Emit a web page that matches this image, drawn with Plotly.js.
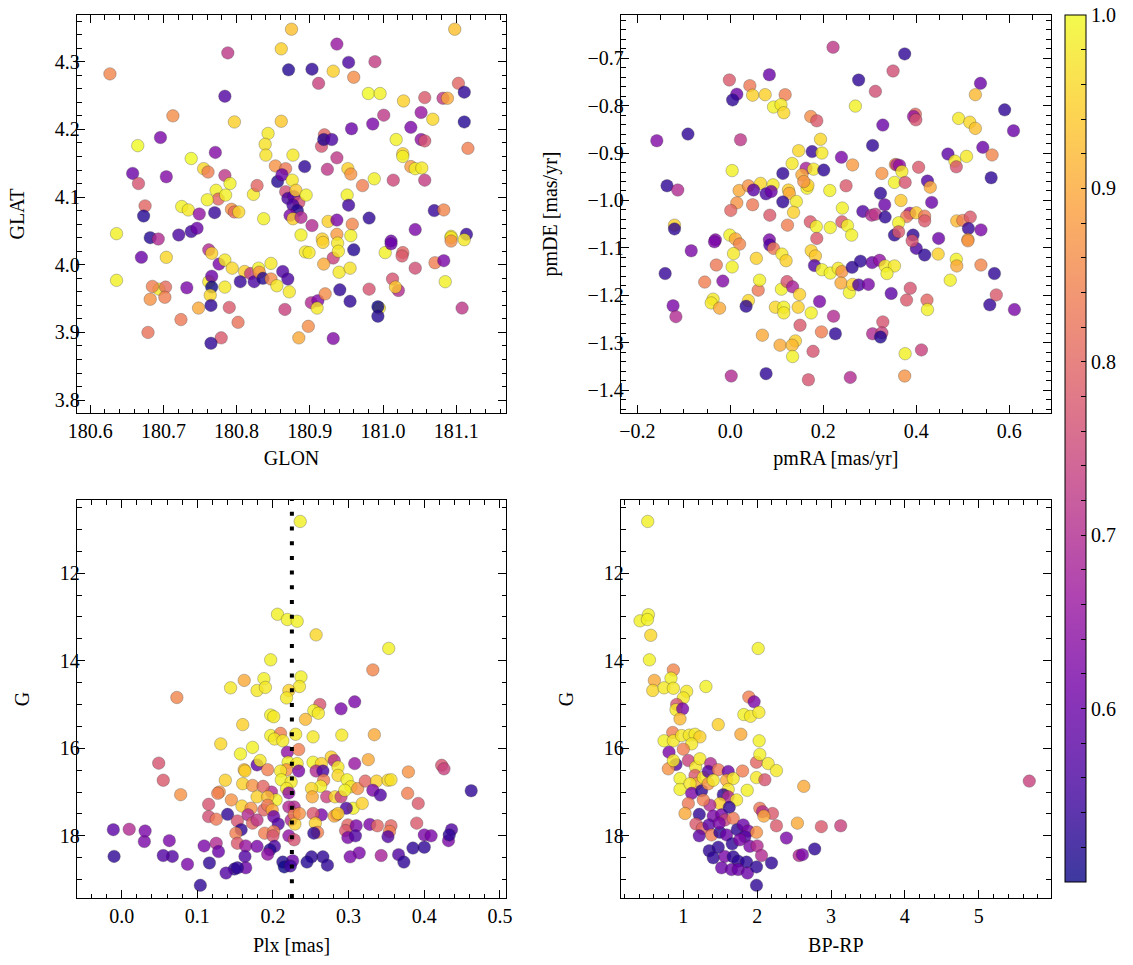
<!DOCTYPE html>
<html>
<head>
<meta charset="utf-8">
<script src="https://cdn.plot.ly/plotly-3.0.1.min.js"></script>
<style>html,body{margin:0;padding:0;background:#fff;}#chart{width:1133px;height:965px;}</style>
</head>
<body>
<div id="chart"></div>
<script>
// ---------------- DATA ----------------
// Panel 1: sky positions
const glon = [180.627,180.875,181.098,180.788,180.937,180.861,180.871,180.903,180.953,180.989,
180.932,180.960,180.912,180.784,180.980,180.996,181.028,181.057,181.082,181.088,
181.103,181.111,180.713,180.797,180.861,180.957,180.986,181.001,181.038,181.052,
181.068,181.111,180.665,180.696,180.843,180.839,180.920,180.916,180.919,180.930,
181.018,181.052,181.057,181.116,180.771,180.738,180.840,180.877,180.937,181.027,
181.027,180.755,180.761,180.853,180.867,180.893,180.924,180.952,180.956,181.038,
181.044,181.053,181.057,181.014,180.988,180.658,180.666,180.704,180.784,180.791,
180.772,180.775,180.785,180.760,180.823,180.828,180.856,180.862,180.867,180.870,
180.878,180.876,180.881,180.885,180.877,180.883,180.873,180.877,180.888,180.895,
180.951,180.953,180.972,180.725,180.734,180.749,180.770,180.793,180.797,180.803,
180.675,180.673,180.837,180.903,180.925,180.937,180.958,180.981,181.070,181.083,
181.044,180.636,180.682,180.693,180.721,180.738,180.746,180.888,180.917,180.937,
180.956,181.011,181.093,181.114,
180.670,180.704,180.762,180.766,180.776,180.784,180.794,180.811,180.819,180.824,
180.830,180.831,180.836,180.847,180.847,180.855,180.863,180.870,180.872,180.866,
180.805,180.762,180.766,180.766,180.764,180.765,180.784,180.732,180.694,180.685,
180.703,180.682,180.702,180.636,180.748,180.790,180.724,180.802,180.679,180.779,
180.765,180.885,180.898,180.932,180.902,180.911,180.910,180.921,180.941,180.955,
180.981,180.995,180.993,180.993,181.013,181.021,181.017,181.044,181.071,181.083,
181.085,181.108,181.027,181.026,181.003,181.011,181.093,181.093,181.111,180.960,
180.932,180.938,180.939,180.918,180.919,180.940,180.955,180.894,180.899];
const glat = [4.282,4.348,4.348,4.313,4.326,4.319,4.288,4.289,4.299,4.300,
4.286,4.277,4.268,4.249,4.253,4.253,4.242,4.247,4.246,4.246,
4.268,4.255,4.220,4.211,4.212,4.201,4.208,4.221,4.203,4.225,
4.215,4.211,4.176,4.188,4.194,4.178,4.192,4.175,4.185,4.185,
4.185,4.185,4.183,4.172,4.166,4.157,4.162,4.162,4.158,4.164,
4.160,4.142,4.137,4.146,4.142,4.145,4.141,4.142,4.134,4.145,
4.142,4.143,4.125,4.125,4.127,4.135,4.120,4.130,4.132,4.120,
4.110,4.097,4.103,4.096,4.104,4.117,4.123,4.133,4.108,4.098,
4.101,4.125,4.110,4.092,4.088,4.080,4.073,4.068,4.070,4.103,
4.103,4.088,4.117,4.086,4.081,4.075,4.077,4.082,4.078,4.078,
4.087,4.072,4.068,4.058,4.064,4.066,4.060,4.069,4.080,4.081,
4.052,4.046,4.040,4.038,4.044,4.049,4.054,4.044,4.038,4.045,
4.043,4.035,4.042,4.045,
4.011,4.011,4.022,4.017,4.001,4.007,3.995,3.990,3.987,3.975,
3.995,3.989,3.980,4.002,3.979,3.969,3.990,3.979,3.960,3.934,
3.975,3.975,3.983,3.967,3.955,3.940,3.967,3.966,3.964,3.968,
3.967,3.949,3.952,3.977,3.936,3.937,3.919,3.915,3.900,3.892,
3.884,3.892,3.909,3.891,3.944,3.947,3.936,3.957,3.963,3.946,
3.964,3.936,3.938,3.924,3.979,3.962,3.967,3.995,4.003,4.006,
3.975,3.936,4.018,4.013,4.018,4.031,4.040,4.035,4.037,4.022,
4.010,4.032,4.020,4.033,4.001,3.989,3.995,4.019,4.018];
const probPos = [0.85,0.93,0.93,0.72,0.66,0.95,0.52,0.53,0.56,0.73,
0.95,0.86,0.74,0.57,1.0,0.99,0.95,0.78,0.72,0.9,
0.8,0.53,0.86,0.95,0.94,0.6,0.62,0.72,0.62,0.66,
0.96,0.52,1.0,0.62,0.98,0.97,0.8,0.77,0.52,0.56,
0.99,0.65,0.77,0.84,0.63,1.0,0.97,0.98,0.72,0.95,
0.99,0.96,0.84,0.87,0.83,0.53,0.72,0.95,0.87,0.88,
0.99,0.98,0.73,0.75,0.99,0.6,0.77,0.63,0.72,0.99,
0.99,0.8,0.99,0.99,0.98,0.8,0.52,0.6,0.76,0.56,
0.58,0.98,0.94,0.76,0.56,0.52,0.62,0.95,0.7,0.99,
0.99,0.55,0.84,0.99,0.98,0.65,0.54,0.87,0.81,0.96,
0.8,0.52,0.99,0.7,0.95,0.62,0.85,0.53,0.54,0.85,
0.62,0.99,0.52,0.7,0.56,0.55,0.6,0.99,0.95,0.88,
0.99,0.6,0.98,0.54,
0.6,0.96,0.7,0.95,0.62,0.98,0.96,0.95,0.73,0.56,
0.99,0.87,0.52,0.98,0.86,0.98,0.57,0.56,0.98,0.74,
0.54,0.98,0.6,0.5,0.96,0.53,0.98,0.62,0.98,0.84,
0.81,0.87,0.84,0.99,0.9,0.78,0.83,0.82,0.82,0.78,
0.53,0.9,0.86,0.63,0.7,0.63,0.98,0.86,0.53,0.53,
0.77,0.98,0.5,0.52,0.77,0.7,0.94,0.76,0.84,0.62,
0.99,0.72,0.8,0.78,0.99,0.6,0.98,0.86,0.98,0.52,
0.74,0.98,0.98,0.95,0.9,0.98,0.97,0.98,0.98];

// Panel 2: proper motions
const pmra = [0.221,0.375,0.350,0.312,0.276,0.269,0.538,0.527,0.590,0.609,
0.491,0.515,0.527,0.398,0.394,0.399,0.328,-0.002,0.042,0.084,
0.014,0.005,0.048,0.075,0.118,0.093,0.109,0.115,0.173,0.186,
-0.158,-0.091,0.022,0.194,0.147,0.176,0.197,0.133,0.163,0.179,
0.201,0.004,0.113,0.154,0.239,0.263,0.306,0.355,0.358,0.364,
0.369,0.326,0.405,0.468,0.483,0.486,0.508,0.543,0.563,0.561,
-0.136,-0.113,0.019,0.039,0.065,0.092,0.050,0.077,0.088,0.125,
0.127,0.142,0.113,0.014,0.048,0.001,0.085,0.136,0.123,0.165,
0.167,0.158,0.214,0.249,0.241,0.172,0.185,0.215,0.240,0.252,
0.261,0.285,0.304,0.312,0.333,0.323,0.332,0.353,0.376,0.367,
0.386,0.379,0.400,0.418,0.418,0.362,0.424,0.430,0.433,0.353,
0.362,0.393,0.487,0.500,0.516,0.512,0.539,0.448,0.511,-0.120,
-0.120,-0.032,-0.001,0.011,0.186,0.084,
-0.140,-0.084,-0.034,-0.030,-0.055,-0.016,-0.123,-0.117,-0.037,-0.041,
-0.023,0.020,0.007,0.004,0.039,0.034,0.056,0.060,0.063,0.069,
0.077,0.002,0.085,0.093,0.111,0.120,0.110,0.122,0.134,0.149,
0.097,0.115,0.115,0.146,0.150,0.107,0.140,0.133,0.134,0.174,
0.183,0.181,0.174,0.196,0.178,0.168,0.192,0.197,0.215,0.232,
0.240,0.238,0.256,0.263,0.262,0.280,0.276,0.222,0.226,0.258,
0.297,0.305,0.321,0.333,0.353,0.337,0.306,0.328,0.326,0.323,
0.346,0.400,0.391,0.418,0.447,0.387,0.379,0.423,0.424,0.376,
0.375,0.411,0.473,0.486,0.487,0.511,0.539,0.558,0.568,0.572,
0.611];
const pmde = [-0.677,-0.691,-0.727,-0.770,-0.746,-0.801,-0.753,-0.777,-0.809,-0.853,
-0.827,-0.835,-0.848,-0.818,-0.823,-0.830,-0.841,-0.746,-0.758,-0.735,
-0.776,-0.788,-0.778,-0.777,-0.777,-0.803,-0.798,-0.815,-0.823,-0.832,
-0.874,-0.860,-0.872,-0.871,-0.895,-0.897,-0.900,-0.922,-0.932,-0.934,
-0.936,-0.937,-0.943,-0.946,-0.909,-0.925,-0.884,-0.924,-0.925,-0.926,
-0.939,-0.943,-0.930,-0.902,-0.917,-0.929,-0.907,-0.888,-0.904,-0.952,
-0.969,-0.978,-0.979,-0.969,-0.964,-0.967,-0.978,-0.986,-0.981,-0.978,
-0.985,-1.002,-1.003,-1.005,-1.009,-1.021,-1.031,-1.025,-1.052,-0.974,
-0.968,-0.960,-0.979,-0.969,-1.016,-1.045,-1.055,-1.057,-1.045,-1.053,
-1.073,-1.023,-1.031,-1.029,-1.035,-0.985,-1.009,-0.962,-0.962,-1.000,
-1.027,-1.034,-1.026,-1.033,-1.043,-1.047,-0.959,-0.972,-1.004,-1.073,
-1.066,-1.073,-1.043,-1.042,-1.035,-1.059,-1.062,-1.080,-1.082,-1.052,
-1.060,-1.083,-1.073,-1.081,-1.080,-1.083,
-1.154,-1.106,-1.087,-1.136,-1.172,-1.170,-1.222,-1.245,-1.208,-1.216,
-1.227,-1.092,-1.112,-1.140,-1.211,-1.223,-1.122,-1.189,-1.168,-1.284,
-1.365,-1.370,-1.094,-1.101,-1.113,-1.127,-1.187,-1.171,-1.182,-1.198,
-1.225,-1.225,-1.237,-1.225,-1.263,-1.305,-1.296,-1.305,-1.329,-1.106,
-1.117,-1.137,-1.237,-1.277,-1.318,-1.378,-1.213,-1.146,-1.153,-1.143,
-1.150,-1.174,-1.194,-1.177,-1.141,-1.128,-1.178,-1.244,-1.281,-1.373,
-1.177,-1.131,-1.126,-1.138,-1.138,-1.154,-1.281,-1.256,-1.279,-1.288,
-1.196,-1.101,-1.085,-1.115,-1.113,-1.185,-1.210,-1.210,-1.230,-1.323,
-1.370,-1.315,-1.168,-1.124,-1.138,-1.085,-1.136,-1.220,-1.154,-1.199,
-1.230];
const probPm = [0.72,0.53,0.76,0.76,0.53,0.99,0.6,0.92,0.53,0.6,
0.98,0.96,0.93,0.8,0.66,0.77,0.6,0.78,0.83,0.6,
0.6,0.53,0.95,0.95,0.84,0.99,0.98,0.96,0.86,0.78,
0.63,0.53,0.72,0.96,0.96,0.54,0.98,0.98,0.68,0.98,
0.53,0.99,0.53,0.9,0.62,0.88,0.53,0.87,0.7,0.65,
0.98,0.87,0.78,0.58,0.98,0.77,0.98,0.6,0.85,0.53,
0.53,0.7,0.9,0.87,0.96,0.98,0.58,0.56,0.6,0.95,
0.9,0.98,0.53,0.87,0.83,0.8,0.78,0.95,0.84,0.99,
0.95,0.87,0.99,0.78,0.99,0.78,0.99,0.99,0.78,0.99,
0.99,0.57,0.7,0.72,0.53,0.53,0.6,0.99,0.77,0.94,
0.66,0.83,0.94,0.83,0.78,0.99,0.57,0.9,0.6,0.53,
0.78,0.53,0.92,0.84,0.78,0.54,0.62,0.6,0.9,0.95,
0.53,0.63,0.99,0.9,0.78,0.62,
0.54,0.62,0.62,0.83,0.84,0.63,0.62,0.7,0.98,0.98,
0.9,0.85,0.98,0.99,0.96,0.53,0.95,0.83,0.99,0.9,
0.53,0.7,0.57,0.83,0.98,0.95,0.99,0.77,0.68,0.95,
0.96,0.99,0.98,0.95,0.78,0.9,0.95,0.92,0.99,0.95,
0.94,0.57,0.99,0.84,0.77,0.77,0.62,0.99,0.99,0.98,
0.87,0.9,0.99,0.95,0.53,0.53,0.57,0.7,0.53,0.7,
0.62,0.6,0.65,0.98,0.98,0.99,0.7,0.77,0.74,0.52,
0.58,0.56,0.77,0.53,0.95,0.77,0.78,0.8,0.99,0.99,
0.87,0.74,0.99,0.99,0.9,0.87,0.85,0.54,0.53,0.78,
0.62];

// Panel 3: parallax vs G
const plx = [0.236,0.206,0.219,0.232,0.257,0.353,0.197,0.332,0.162,0.188,
0.237,0.144,0.179,0.190,0.235,0.221,0.218,0.073,0.262,0.290,
0.308,0.254,0.260,0.197,0.201,0.243,0.160,
0.253,0.291,0.334,0.197,0.210,0.202,0.213,0.230,0.173,0.157,
0.131,0.049,0.055,0.078,0.179,0.183,0.162,0.163,0.193,0.219,
0.234,0.220,0.232,0.218,0.234,0.210,0.211,0.224,0.198,0.204,
0.218,0.137,0.160,0.173,0.187,0.129,0.127,0.179,0.145,0.159,
0.193,0.115,0.171,0.188,0.193,0.199,0.140,0.115,0.125,0.167,
0.173,0.153,0.158,0.151,0.153,0.179,0.189,0.201,0.207,0.201,
0.200,0.221,0.228,0.221,0.224,0.228,0.229,0.235,0.221,0.228,
0.253,0.264,0.257,0.266,0.277,0.281,0.286,0.286,0.308,0.298,
0.303,0.312,0.322,0.326,0.337,0.352,0.356,0.332,0.342,0.267,
0.263,0.251,0.252,0.271,0.282,0.290,0.295,0.306,0.297,0.318,
0.284,0.281,0.286,0.264,0.253,0.256,0.259,0.254,0.379,0.378,
0.392,0.390,0.423,0.426,0.462,0.299,0.296,0.310,0.328,0.338,
0.356,0.354,0.352,0.299,0.309,0.400,0.409,0.436,0.432,0.433,
0.385,0.400,0.366,0.373,0.343,0.314,0.302,0.266,0.272,0.251,
0.245,0.226,0.213,0.215,0.223,0.202,0.196,0.193,0.164,0.179,
0.163,0.164,0.149,0.153,0.138,0.116,0.104,0.109,0.125,0.128,
0.087,0.067,0.055,0.063,0.030,0.031,0.010,-0.011,-0.010];
const gPlx = [10.82,12.94,13.06,13.10,13.41,13.72,13.98,14.21,14.45,14.41,
14.37,14.62,14.68,14.61,14.59,14.68,14.85,14.84,15.00,15.10,
14.94,15.14,15.20,15.24,15.28,15.34,15.46,
15.74,15.70,15.69,15.71,15.66,15.79,15.83,15.68,15.98,16.13,
15.90,16.34,16.73,17.06,16.38,16.28,16.49,16.52,16.49,16.09,
16.03,16.32,16.35,16.49,16.52,16.52,16.72,16.77,17.00,17.18,
16.92,16.73,16.81,16.85,16.87,17.00,17.03,17.11,17.18,17.32,
17.11,17.28,17.37,17.41,17.30,17.41,17.51,17.56,17.62,17.52,
17.71,17.66,17.86,17.94,18.17,17.64,17.94,17.56,17.73,17.90,
18.00,17.02,17.34,17.34,17.64,17.51,17.73,17.49,18.00,18.09,
16.32,16.35,16.52,16.52,16.20,16.28,16.43,16.62,16.35,16.72,
16.88,16.92,16.75,16.26,16.75,16.73,16.72,16.96,17.07,16.73,
16.87,16.92,17.11,17.11,17.11,17.11,16.96,17.37,17.37,17.26,
17.52,17.55,17.49,17.52,17.49,17.71,17.92,17.94,16.54,17.03,
17.26,17.71,16.39,16.47,16.97,17.75,17.88,17.77,17.74,17.77,
17.77,17.90,18.02,18.04,18.00,17.98,18.00,17.86,18.11,17.98,
18.28,18.26,18.43,18.60,18.45,18.39,18.48,18.48,18.67,18.48,
18.60,18.57,18.60,18.71,18.69,18.24,18.32,18.42,18.23,18.24,
18.47,18.73,18.76,18.73,18.85,18.62,19.13,18.23,18.17,18.36,
18.65,18.47,18.45,18.11,18.13,17.89,17.85,17.86,18.47];
const probPlx = [0.99,0.99,0.99,0.99,0.96,0.99,0.99,0.85,0.9,0.99,
0.99,0.98,0.98,0.98,0.98,0.95,0.98,0.85,0.77,0.62,
0.62,0.99,0.98,0.99,0.98,0.92,0.95,
0.98,0.98,0.9,0.99,0.84,0.98,0.98,0.98,0.99,0.99,
0.96,0.77,0.78,0.87,0.58,0.98,0.92,0.95,0.84,0.65,
0.84,0.99,0.98,0.87,0.62,0.98,0.99,0.98,0.7,0.99,
0.98,0.95,0.95,0.87,0.8,0.87,0.84,0.95,0.87,0.95,
0.93,0.77,0.87,0.8,0.83,0.9,0.53,0.76,0.83,0.7,
0.8,0.77,0.53,0.84,0.78,0.72,0.84,0.6,0.57,0.84,
0.77,0.65,0.7,0.7,0.7,0.84,0.95,0.87,0.65,0.77,
0.99,0.95,0.7,0.56,0.95,0.7,0.98,0.96,0.66,0.99,
0.98,0.87,0.8,0.9,0.95,0.96,0.97,0.62,0.57,0.84,
0.99,0.96,0.9,0.74,0.96,0.74,0.99,0.99,0.56,0.95,
0.72,0.9,0.95,0.62,0.78,0.95,0.84,0.53,0.87,0.84,
0.78,0.78,0.77,0.74,0.53,0.8,0.78,0.62,0.62,0.8,
0.8,0.84,0.57,0.62,0.57,0.62,0.62,0.57,0.62,0.53,
0.53,0.53,0.57,0.53,0.68,0.62,0.62,0.53,0.53,0.53,
0.52,0.6,0.52,0.5,0.55,0.56,0.52,0.65,0.66,0.62,
0.57,0.6,0.53,0.53,0.57,0.53,0.53,0.62,0.7,0.6,
0.62,0.57,0.57,0.62,0.62,0.62,0.7,0.58,0.53];
const plxMedian = 0.225;

// Panel 4: colour-magnitude diagram
const bprp = [0.518,0.414,0.527,0.514,0.559,0.541,2.014,0.865,0.608,0.833,
0.586,0.739,0.865,1.045,1.000,1.306,0.910,0.901,0.991,0.955,
1.887,1.959,1.820,1.910,2.023,1.473,
0.856,0.739,0.865,0.977,1.081,1.158,1.225,1.113,0.806,1.000,
0.901,0.797,0.865,0.955,0.955,1.068,1.167,1.225,1.158,1.180,
1.090,1.113,1.248,1.270,1.369,1.338,1.338,1.473,1.405,1.608,
1.586,1.676,1.608,1.541,1.608,1.721,1.495,1.360,1.270,1.068,
1.023,1.216,1.171,1.257,1.216,1.405,1.518,1.622,1.563,1.676,
1.347,1.383,1.495,1.486,1.586,1.662,1.730,1.811,1.878,1.991,
1.833,1.766,1.901,2.000,2.059,1.351,1.473,1.405,1.563,1.676,
1.743,1.856,1.518,1.653,1.743,1.869,1.991,1.991,2.194,2.396,
2.779,2.568,2.613,2.261,2.545,2.869,3.131,2.207,2.036,2.072,
2.090,2.631,5.685,1.802,1.865,1.991,2.104,1.991,2.036,2.149,
2.261,2.027,1.779];
const gCmd = [10.82,13.09,12.95,13.06,13.42,13.98,13.72,14.21,14.45,14.40,
14.68,14.62,14.63,14.70,14.85,14.59,15.00,15.12,15.10,15.33,
14.83,14.94,15.23,15.27,15.18,15.46,
15.64,15.83,15.83,15.71,15.70,15.68,15.74,15.90,16.09,16.02,
16.37,16.47,16.28,16.69,16.94,16.28,16.43,16.24,16.62,16.81,
16.81,17.03,16.97,16.67,16.35,16.53,16.81,16.49,16.73,16.53,
16.73,16.69,16.94,17.06,17.11,17.18,17.26,17.30,17.18,17.26,
17.49,17.51,17.73,17.83,18.00,17.55,17.52,17.35,17.64,17.60,
17.75,17.98,17.92,17.71,17.98,18.18,17.86,17.75,17.89,17.92,
18.02,18.09,18.24,18.23,18.45,18.34,18.26,18.50,18.47,18.48,
18.58,18.60,18.73,18.77,18.77,18.85,18.71,19.13,18.62,18.05,
18.30,18.45,18.43,17.77,17.71,17.79,17.77,17.49,17.37,17.45,
17.55,16.87,16.75,16.52,16.96,16.67,16.72,16.32,16.14,16.35,
16.51,15.83,15.68];
const probCmd = [0.99,0.99,0.99,0.99,0.96,0.99,0.99,0.85,0.9,0.99,
0.96,0.98,0.98,0.98,0.98,0.99,0.77,0.98,0.62,0.92,
0.84,0.62,0.99,0.98,0.98,0.95,
0.84,0.99,0.98,0.98,0.98,0.98,0.95,0.98,0.62,0.84,
0.57,0.87,0.98,0.99,0.99,0.74,0.98,0.98,0.78,0.9,
0.98,0.62,0.53,0.98,0.7,0.57,0.87,0.83,0.98,0.6,
0.9,0.98,0.98,0.53,0.7,0.98,0.95,0.7,0.84,0.83,
0.9,0.53,0.78,0.8,0.58,0.62,0.62,0.53,0.74,0.83,
0.58,0.84,0.53,0.62,0.6,0.53,0.53,0.6,0.62,0.87,
0.57,0.62,0.62,0.7,0.7,0.53,0.53,0.53,0.62,0.53,
0.53,0.53,0.6,0.6,0.6,0.6,0.53,0.53,0.53,0.62,
0.53,0.7,0.62,0.78,0.9,0.78,0.74,0.78,0.83,0.7,
0.9,0.9,0.74,0.84,0.99,0.98,0.77,0.8,0.99,0.98,
0.98,0.99,0.9];

const cbTicks = [0.6, 0.7, 0.8, 0.9, 1.0];

// ---------------- STYLE ----------------
const plasmaHex = ['#0d0887','#46039f','#7201a8','#9c179e','#bd3786','#d8576b','#ed7953','#fb9f3a','#fdca26','#f0f921'];
const plasma = plasmaHex.map((h, i) => [i / (plasmaHex.length - 1), h]);
function fadeHex(h, a) {
  const r = parseInt(h.slice(1,3),16), g = parseInt(h.slice(3,5),16), b = parseInt(h.slice(5,7),16);
  const f = v => Math.round(a * v + (1 - a) * 255);
  return 'rgb(' + f(r) + ',' + f(g) + ',' + f(b) + ')';
}
const plasmaFaded = plasmaHex.map((h, i) => [i / (plasmaHex.length - 1), fadeHex(h, 0.8)]);
const CMIN = 0.5, CMAX = 1.0;
const FONT = 'Liberation Serif, Times New Roman, serif';
const FS = 20;

function pts(x, y, c, xa, ya) {
  return {
    type: 'scatter', mode: 'markers', x: x, y: y, xaxis: xa, yaxis: ya,
    showlegend: false, hoverinfo: 'skip',
    marker: { color: c, colorscale: plasma, cmin: CMIN, cmax: CMAX, size: 12.5, opacity: 0.8,
      line: { color: 'rgba(30,30,30,0.55)', width: 0.6 } }
  };
}

const traces = [
  pts(glon, glat, probPos, 'x', 'y'),
  pts(pmra, pmde, probPm, 'x2', 'y2'),
  pts(plx, gPlx, probPlx, 'x3', 'y3'),
  pts(bprp, gCmd, probCmd, 'x4', 'y4'),
];
// colourbar carrier (invisible markers, faded scale to mimic alpha 0.8)
const cbVals = [];
for (let v = 0.52; v <= 1.0001; v += 0.02) cbVals.push(+v.toFixed(2));
const cbText = cbVals.map(v => cbTicks.some(t => Math.abs(t - v) < 1e-6) ? v.toFixed(1) : '');
traces.push({
  type: 'scatter', mode: 'markers', x: bprp, y: gCmd, xaxis: 'x4', yaxis: 'y4',
  showlegend: false, hoverinfo: 'skip',
  marker: { color: probCmd, colorscale: plasmaFaded, cmin: CMIN, cmax: CMAX, size: 13, opacity: 0,
    showscale: true,
    colorbar: { x: 1065/1133, xanchor: 'left', xref: 'paper', y: 1 - 15/965, yanchor: 'top', yref: 'paper',
      len: 867/965, lenmode: 'fraction', thickness: 21, thicknessmode: 'pixels',
      outlinewidth: 1, outlinecolor: 'black', xpad: 0, ypad: 0,
      ticks: 'inside', ticklen: 5, tickwidth: 1, tickcolor: 'black',
      tickmode: 'array', tickvals: cbVals, ticktext: cbText,
      tickfont: { family: FONT, size: FS, color: 'black' } } }
});

function axis(extra) {
  return Object.assign({
    showline: true, mirror: 'allticks', linecolor: 'black', linewidth: 1.2,
    ticks: 'inside', ticklen: 8, tickwidth: 1, tickcolor: 'black',
    showgrid: false, zeroline: false,
    tickfont: { family: FONT, size: FS, color: 'black' },
  }, extra);
}
function ttl(t, s) { return { text: t, font: { family: FONT, size: FS, color: 'black' }, standoff: s }; }
function minor(d) { return { dtick: d, ticks: 'inside', ticklen: 4.5, tickwidth: 1, tickcolor: 'black', showgrid: false }; }

const dxL = [77/1133, 506/1133], dxR = [621/1133, 1050.7/1133];
const dyT = [1 - 413/965, 1 - 15/965], dyB = [1 - 898/965, 1 - 500/965];
const YSO = -8, YTS = 24;

const layout = {
  width: 1133, height: 965,
  margin: { l: 0, r: 0, t: 0, b: 0 },
  paper_bgcolor: 'white', plot_bgcolor: 'white',
  font: { family: FONT, size: FS, color: 'black' },
  xaxis: axis({ domain: dxL, anchor: 'y', range: [180.582, 181.168], tick0: 180.6, dtick: 0.1, tickformat: '.1f', minor: minor(0.02), title: ttl('GLON', 9) }),
  yaxis: axis({ domain: dyT, anchor: 'x', range: [3.781, 4.369], tick0: 3.8, dtick: 0.1, tickformat: '.1f', minor: minor(0.02), ticklabelstandoff: YSO, title: ttl('GLAT', YTS) }),
  xaxis2: axis({ domain: dxR, anchor: 'y2', range: [-0.235, 0.689], tick0: 0, dtick: 0.2, tickformat: '.1f', minor: minor(0.05), title: ttl('pmRA [mas/yr]', 9) }),
  yaxis2: axis({ domain: dyT, anchor: 'x2', range: [-1.448, -0.609], tick0: 0, dtick: 0.1, tickformat: '.1f', minor: minor(0.02), ticklabelstandoff: YSO, title: ttl('pmDE [mas/yr]', YTS) }),
  xaxis3: axis({ domain: dxL, anchor: 'y3', range: [-0.059, 0.508], tick0: 0, dtick: 0.1, tickformat: '.1f', minor: minor(0.02), title: ttl('Plx [mas]', 11) }),
  yaxis3: axis({ domain: dyB, anchor: 'x3', range: [19.42, 10.33], tick0: 0, dtick: 2, minor: minor(0.5), ticklabelstandoff: YSO, title: ttl('G', YTS) }),
  xaxis4: axis({ domain: dxR, anchor: 'y4', range: [0.156, 5.975], tick0: 0, dtick: 1, minor: minor(0.2), title: ttl('BP-RP', 11) }),
  yaxis4: axis({ domain: dyB, anchor: 'x4', range: [19.42, 10.33], tick0: 0, dtick: 2, minor: minor(0.5), ticklabelstandoff: YSO, title: ttl('G', YTS) }),
  shapes: [{ type: 'line', xref: 'x3', yref: 'y3 domain', x0: plxMedian, x1: plxMedian, y0: 0, y1: 1,
    line: { color: 'black', width: 4, dash: '4px,10.7px' }, layer: 'above' }]
};

Plotly.newPlot('chart', traces, layout, { displayModeBar: false, staticPlot: true });
</script>
</body>
</html>
